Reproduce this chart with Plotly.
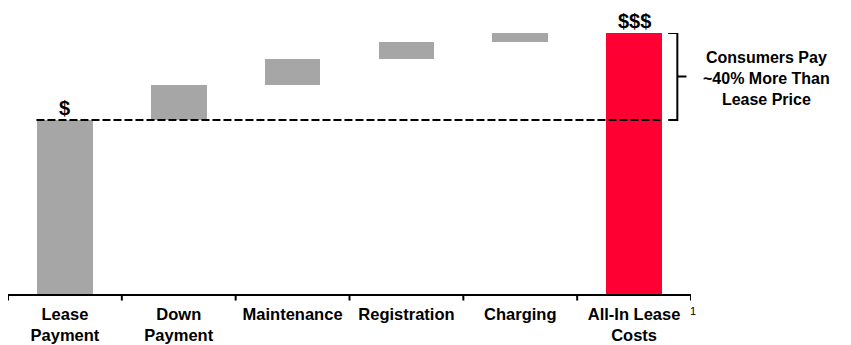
import plotly.graph_objects as go
import numpy as np

categories = ["<b>Lease</b><br><b>Payment</b>", "<b>Down</b><br><b>Payment</b>", "<b>Maintenance</b>",
              "<b>Registration</b>", "<b>Charging</b>", "<b>All-In Lease</b><br><b>Costs</b>"]
components = [100, 20, 15, 10, 5]
top_labels = ["$", "", "", "", "", "$$$"]

total = sum(components)
values = components + [total]
bases = [0] + list(np.cumsum(components)[:-1]) + [0]
colors = ["#A6A6A6"] * 5 + ["#FF0033"]

fig = go.Figure()
fig.add_trace(go.Bar(
    x=list(range(6)), y=values, base=bases, width=0.49,
    marker=dict(color=colors, line=dict(width=0)),
    hoverinfo="skip",
))

# top labels
for i, t in enumerate(top_labels):
    if t:
        fig.add_annotation(x=i, y=bases[i] + values[i], text=f"<b>{t}</b>", showarrow=False,
                           yanchor="bottom", yshift=-1,
                           font=dict(family="Liberation Sans", size=20, color="black"))

# dashed reference line at lease payment level
lease = components[0]
fig.add_shape(type="line", x0=-0.25, x1=5.25, y0=lease, y1=lease,
              line=dict(color="black", width=2, dash="8px,3px"))

# bracket
bx = 5.38
fig.add_shape(type="path",
              path=f"M 5.3,{total} L {bx},{total} L {bx},{(total+lease)/2} L 5.46,{(total+lease)/2} "
                   f"M {bx},{(total+lease)/2} L {bx},{lease} L 5.3,{lease}",
              line=dict(color="black", width=2))

fig.add_annotation(xref="paper", x=1.11, y=(total + lease) / 2, yshift=-2,
                   text="<b>Consumers Pay</b><br><b>~40% More Than</b><br><b>Lease Price</b>",
                   showarrow=False, align="center", xanchor="center", yanchor="middle",
                   font=dict(family="Liberation Sans", size=16, color="black"))
fig.add_annotation(xref="paper", yref="paper", x=1.0, y=-0.035, text="1", showarrow=False,
                   xanchor="left", yanchor="top", xshift=-3,
                   font=dict(family="Liberation Sans", size=11, color="black"))

fig.update_layout(
    width=851, height=345,
    margin=dict(l=0, r=168, t=25, b=59),
    plot_bgcolor="white", paper_bgcolor="white",
    showlegend=False, bargap=0,
    xaxis=dict(range=[-0.5, 5.5], tickvals=list(range(6)), ticktext=categories,
               showline=True, linecolor="black", linewidth=2, automargin=False,
               ticks="", showgrid=False, zeroline=False, ticklabelstandoff=4,
               tickfont=dict(family="Liberation Sans", size=16.5, color="black")),
    yaxis=dict(range=[0, total], visible=False, showgrid=False, zeroline=False, automargin=False),
)

# category boundary ticks
for b in np.arange(-0.5, 6.0, 1.0):
    fig.add_shape(type="line", x0=b, x1=b, yref="paper", y0=-0.005, y1=-0.025,
                  line=dict(color="black", width=2))

fig.write_html("out.html")
